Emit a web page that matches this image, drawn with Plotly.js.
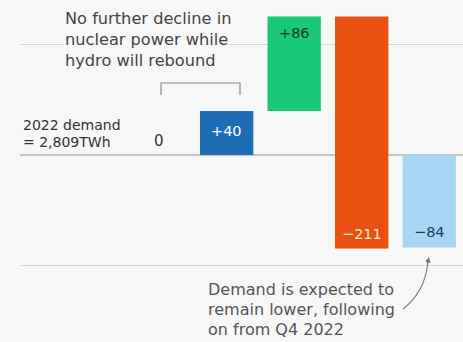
<!DOCTYPE html>
<html>
<head>
<meta charset="utf-8">
<script src="https://cdn.plot.ly/plotly-3.0.1.min.js"></script>
<style>html,body{margin:0;padding:0;background:#f7f7f7;}#chart{width:463px;height:342px;}</style>
</head>
<body>
<div id="chart"></div>
<script>
// Data (TWh change in EU electricity, 2023 vs 2022)
const categories = ['Nuclear', 'Hydro', 'Wind & solar', 'Fossil', 'Demand'];
const changes = [0, 40, 86, -211, -84];
const labels = ['0', '+40', '+86', '\u2212211', '\u221284'];
const startsFromZero = [false, false, false, false, true];
const demandLines = ['2022 demand', '= 2,809TWh'];
const noteTopLines = ['No further decline in', 'nuclear power while', 'hydro will rebound'];
const noteBottomLines = ['Demand is expected to', 'remain lower, following', 'on from Q4 2022'];

const colors = ['#1f6db5', '#1f6db5', '#19c878', '#e8510f', '#a8d5f3'];
const textColors = ['#333333', '#ffffff', '#17402a', '#ffe3d6', '#1e3d5c'];

// compute bases (waterfall), demand bar starts from zero
const bases = [];
let run = 0;
for (let i = 0; i < changes.length; i++) {
  if (startsFromZero[i]) { bases.push(0); }
  else { bases.push(run); run += changes[i]; }
}

const W = 463, H = 342, ML = 20;
const xr = [-2.06, 4.5], yr = [-170, 140.9];
const px2x = p => xr[0] + (p - ML) / (W - ML) * (xr[1] - xr[0]);
const py2y = p => yr[1] - p / H * (yr[1] - yr[0]);
const FONT = '"DejaVu Sans", sans-serif';

const traces = [];
const anns = [];
for (let i = 0; i < categories.length; i++) {
  if (changes[i] === 0) continue;
  traces.push({
    type: 'bar', x: [i], y: [changes[i]], base: [bases[i]], width: 0.79,
    name: categories[i],
    marker: { color: colors[i], line: { width: 0 } },
    hoverinfo: 'skip', showlegend: false
  });
  const top = bases[i] + Math.max(changes[i], 0);
  const bottom = bases[i] + Math.min(changes[i], 0);
  let yy, ya;
  if (i === 1) { yy = (top + bottom) / 2; ya = 'middle'; }
  else if (changes[i] > 0) { yy = top; ya = 'top'; }
  else { yy = bottom; ya = 'bottom'; }
  anns.push({
    x: i, y: yy, xref: 'x', yref: 'y', text: labels[i], showarrow: false,
    yanchor: ya, yshift: ya === 'top' ? -7 : (ya === 'bottom' ? 5 : 2),
    font: { family: FONT, size: 14.5, color: textColors[i] }
  });
}
// zero-change label for nuclear
anns.push({
  x: 0, y: bases[0], xref: 'x', yref: 'y', text: labels[0], showarrow: false,
  yanchor: 'bottom', yshift: 3,
  font: { family: FONT, size: 15, color: '#333' }
});
function addLines(lines, leftPx, centersPx, size, color, bg) {
  lines.forEach((t, k) => {
    const a = {
      x: px2x(leftPx), y: py2y(centersPx[k]), xref: 'x', yref: 'y', text: t, showarrow: false,
      xanchor: 'left', yanchor: 'middle', align: 'left', borderpad: 0,
      font: { family: FONT, size: size, color: color }
    };
    if (bg) a.bgcolor = bg;
    anns.push(a);
  });
}
addLines(demandLines, 22, [125, 142], 14, '#333', null);
addLines(noteTopLines, 64, [18, 39, 60], 16.2, '#444', '#f7f7f7');
addLines(noteBottomLines, 207, [289, 309, 329], 16, '#555', null);
// arrowhead
anns.push({
  x: px2x(429), y: py2y(257), xref: 'x', yref: 'y', text: '', showarrow: true,
  ax: -2, ay: 9, arrowhead: 2, arrowsize: 1, arrowwidth: 1.1, arrowcolor: '#777'
});

const shapes = [
  { type: 'path', xref: 'x', yref: 'y',
    path: `M ${px2x(161)} ${py2y(95)} L ${px2x(161)} ${py2y(83)} L ${px2x(240)} ${py2y(83)} L ${px2x(240)} ${py2y(95)}`,
    line: { color: '#8a8a8a', width: 1.2 } },
  { type: 'path', xref: 'x', yref: 'y',
    path: `M ${px2x(403)} ${py2y(309)} Q ${px2x(425)} ${py2y(292)} ${px2x(428)} ${py2y(262)}`,
    line: { color: '#777', width: 1.1 } }
];

const layout = {
  width: W, height: H,
  margin: { l: ML, r: 0, t: 0, b: 0, pad: 0 },
  paper_bgcolor: '#f7f7f7', plot_bgcolor: '#f7f7f7',
  barmode: 'overlay',
  xaxis: { range: xr, showgrid: false, zeroline: false, showticklabels: false, ticks: '', fixedrange: true },
  yaxis: { range: yr, tickvals: [-100, 0, 100], showticklabels: false, ticks: '',
           gridcolor: '#d6d6d6', gridwidth: 1, zeroline: true, zerolinecolor: '#c4c4c4', zerolinewidth: 1.5 },
  annotations: anns, shapes: shapes, showlegend: false
};

Plotly.newPlot('chart', traces, layout, { displayModeBar: false, staticPlot: true });
</script>
</body>
</html>
